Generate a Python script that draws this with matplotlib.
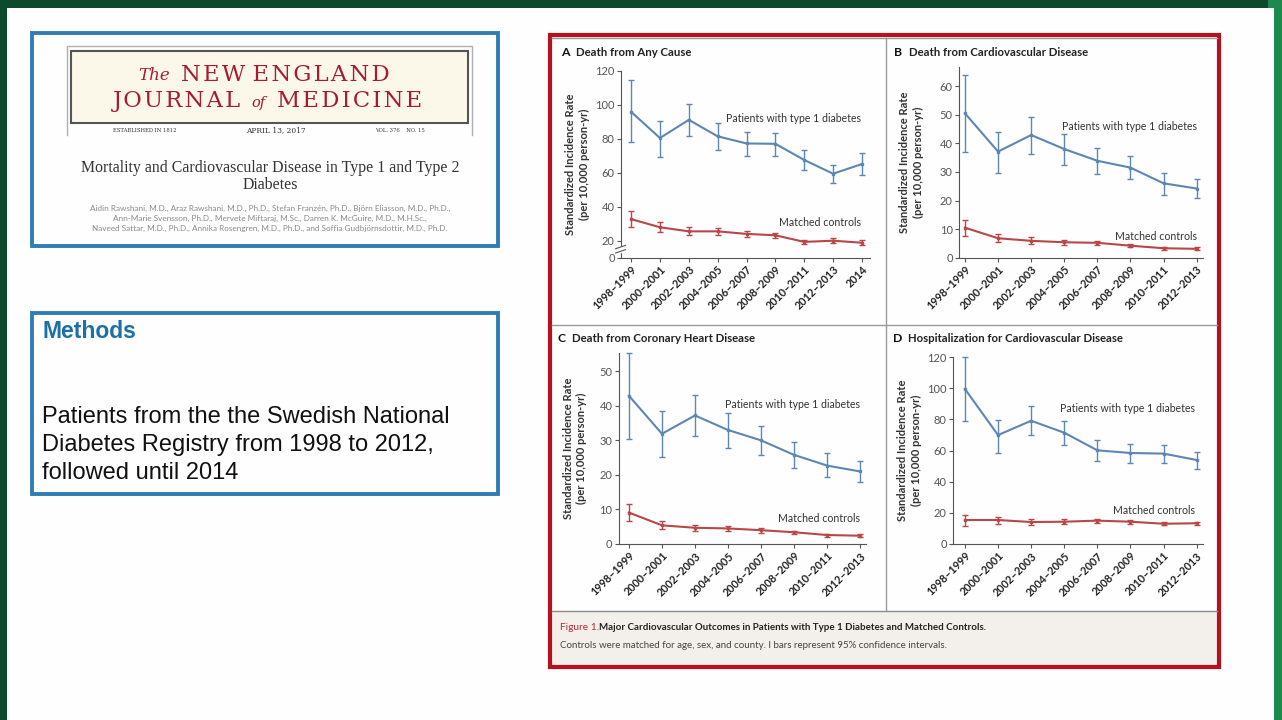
import numpy as np
import matplotlib as mpl
mpl.use('Agg')
import matplotlib.pyplot as plt
from matplotlib.patches import Rectangle
import matplotlib.transforms as mtransforms

W, H = 1282, 720
DPI = 100

# ---- data ----
years_a = ['1998–1999', '2000–2001', '2002–2003', '2004–2005', '2006–2007',
           '2008–2009', '2010–2011', '2012–2013', '2014']
years = years_a[:8]

# A  Death from any cause
a_t1d = [95.8, 80.4, 91.1, 81.4, 77.2, 77.0, 67.5, 59.4, 65.1]
a_t1d_lo = [78.0, 69.1, 81.8, 73.1, 70.1, 70.1, 61.8, 53.9, 58.6]
a_t1d_hi = [114.7, 90.5, 100.4, 89.1, 84.0, 83.2, 73.3, 64.6, 71.7]
a_ctl = [32.7, 27.9, 25.5, 25.5, 24.0, 23.2, 18.6, 20.0, 17.6]
a_ctl_lo = [27.9, 25.3, 23.4, 23.4, 22.2, 21.4, 16.0, 17.6, 15.2]
a_ctl_hi = [37.4, 30.9, 27.9, 27.5, 25.5, 24.6, 20.6, 21.6, 20.2]

# B  Death from cardiovascular disease
b_t1d = [50.5, 37.1, 42.9, 38.0, 33.9, 31.5, 26.0, 24.2]
b_t1d_lo = [37.1, 29.5, 36.4, 32.4, 29.1, 27.4, 22.1, 21.0]
b_t1d_hi = [63.9, 43.8, 49.2, 43.1, 38.3, 35.5, 29.5, 27.5]
b_ctl = [10.5, 6.8, 5.9, 5.4, 5.2, 4.2, 3.3, 3.1]
b_ctl_lo = [7.6, 5.4, 4.9, 4.4, 4.5, 3.6, 2.8, 2.7]
b_ctl_hi = [13.2, 8.2, 7.1, 6.3, 5.9, 4.8, 3.7, 3.6]

# C  Death from coronary heart disease
c_t1d = [42.9, 31.9, 37.2, 33.0, 30.0, 25.8, 22.7, 21.0]
c_t1d_lo = [30.3, 25.1, 31.3, 27.9, 25.8, 21.9, 19.3, 18.0]
c_t1d_hi = [55.2, 38.5, 43.2, 37.9, 34.3, 29.4, 26.2, 24.1]
c_ctl = [9.1, 5.4, 4.7, 4.5, 4.0, 3.4, 2.6, 2.4]
c_ctl_lo = [6.6, 4.2, 3.9, 3.8, 3.3, 2.9, 2.1, 2.0]
c_ctl_hi = [11.6, 6.6, 5.5, 5.2, 4.6, 3.9, 3.0, 2.8]

# D  Hospitalization for cardiovascular disease
d_t1d = [99.5, 69.9, 79.1, 71.4, 60.1, 58.4, 58.0, 53.9]
d_t1d_lo = [79.1, 58.6, 69.7, 63.3, 53.5, 52.0, 52.0, 48.1]
d_t1d_hi = [119.8, 79.8, 88.6, 79.1, 66.7, 64.4, 63.7, 59.3]
d_ctl = [15.4, 15.4, 14.1, 14.3, 15.0, 14.3, 13.0, 13.3]
d_ctl_lo = [11.8, 13.0, 12.4, 12.8, 13.7, 13.0, 12.2, 12.2]
d_ctl_hi = [18.6, 17.3, 15.8, 15.8, 16.3, 15.4, 13.9, 14.1]

BLUE = '#5f86b3'
RED = '#b8474a'
NEJM_RED = '#a51c30'
FONT = 'Lato'
HS = '\u200a'  # hair space, used for the letter-spaced masthead

fig = plt.figure(figsize=(W / DPI, H / DPI), dpi=DPI)
fig.patch.set_facecolor('#0c4a2b')

# full-figure canvas in pixel coordinates
bg = fig.add_axes([0, 0, 1, 1])
bg.set_xlim(0, W)
bg.set_ylim(H, 0)
bg.axis('off')
bg.add_patch(Rectangle((1268, 0), 14, H, color='#1b8a4c', lw=0))
bg.add_patch(Rectangle((7, 8), 1267, H - 8, color='#fdfefd', lw=0))

# ---- left: article header box ----
bg.add_patch(Rectangle((32, 33), 466, 213, fill=False, ec='#2f7db3', lw=2.8))
bg.plot([67, 67, 472, 472], [135, 46, 46, 135], color='#b0b0b0', lw=1)
bg.add_patch(Rectangle((71, 51), 397, 72, fc='#fbf8ea', ec='#555555', lw=1.5))


def spaced(s):
    return HS.join(s)


serif = 'DejaVu Serif'
bg.text(170, 76, 'The', color=NEJM_RED, family=serif, style='italic',
        fontsize=12, ha='right', va='center')
bg.text(181, 75, spaced('NEW') + ' ' + spaced('ENGLAND'), color=NEJM_RED,
        family=serif, fontsize=16.3, ha='left', va='center')
bg.text(113, 101, spaced('JOURNAL'), color=NEJM_RED, family=serif,
        fontsize=16.3, ha='left', va='center')
bg.text(258, 103, 'of', color=NEJM_RED, family=serif, style='italic',
        fontsize=10.5, ha='center', va='center')
bg.text(277, 101, spaced('MEDICINE'), color=NEJM_RED, family=serif,
        fontsize=16.3, ha='left', va='center')
bg.text(113, 130, 'ESTABLISHED IN 1812', color='#333333', family=serif,
        fontsize=3.8, ha='left', va='center')
bg.text(276, 130, 'APRIL 13, 2017', color='#333333', family=serif,
        fontsize=5.4, ha='center', va='center')
bg.text(425, 130, 'VOL. 376    NO. 15', color='#333333', family=serif,
        fontsize=3.8, ha='right', va='center')

bg.text(270, 168, 'Mortality and Cardiovascular Disease in Type 1 and Type 2',
        color='#333333', family='Liberation Serif', fontsize=11.4,
        ha='center', va='center')
bg.text(270, 185, 'Diabetes', color='#333333', family='Liberation Serif',
        fontsize=11.4, ha='center', va='center')
authors = ['Aidin Rawshani, M.D., Araz Rawshani, M.D., Ph.D., Stefan Franzén, Ph.D., Björn Eliasson, M.D., Ph.D.,',
           'Ann-Marie Svensson, Ph.D., Mervete Miftaraj, M.Sc., Darren K. McGuire, M.D., M.H.Sc.,',
           'Naveed Sattar, M.D., Ph.D., Annika Rosengren, M.D., Ph.D., and Soffia Gudbjörnsdottir, M.D., Ph.D.']
for i, line in enumerate(authors):
    bg.text(270, 208 + 10 * i, line, color='#8a8a8a', family=FONT,
            fontsize=5.9, ha='center', va='center')

# ---- left: methods box ----
bg.add_patch(Rectangle((32, 313), 466, 181, fill=False, ec='#2f7db3', lw=2.8))
bg.text(42, 331, 'Methods', color='#1c70a8', family='Liberation Sans',
        fontsize=16.5, weight='bold', ha='left', va='center')
methods = ['Patients from the the Swedish National',
           'Diabetes Registry from 1998 to 2012,',
           'followed until 2014']
for i, line in enumerate(methods):
    bg.text(42, 417 + 28 * i, line, color='#111111', family='Liberation Sans',
            fontsize=17, ha='left', va='center')

# ---- right: figure frame ----
bg.add_patch(Rectangle((551, 611), 666, 54, color='#f3f0eb', lw=0))
bg.add_patch(Rectangle((549.5, 34.5), 669, 632, fill=False, ec='#b8101f', lw=3))
bg.plot([552, 1217], [38, 38], color='#9a9a9a', lw=1)
bg.plot([552, 1217], [325, 325], color='#9a9a9a', lw=1)
bg.plot([552, 1217], [610.5, 610.5], color='#8a8a8a', lw=1)
bg.plot([886, 886], [38, 610], color='#9a9a9a', lw=1)

bg.text(560, 627, 'Figure 1.', color='#b8263a', family=FONT, fontsize=7.3,
        ha='left', va='center')
bg.text(599, 627, 'Major Cardiovascular Outcomes in Patients with Type 1 Diabetes and Matched Controls.',
        color='#222222', family=FONT, fontsize=7.0, weight='bold',
        ha='left', va='center')
bg.text(560, 646, 'Controls were matched for age, sex, and county. I bars represent 95% confidence intervals.',
        color='#444444', family=FONT, fontsize=7.0, ha='left', va='center')


def px_axes(left, top, right, bottom):
    return fig.add_axes([left / W, 1 - bottom / H, (right - left) / W, (bottom - top) / H])


def style_yticks(ax):
    for lab in ax.get_yticklabels():
        lab.set_family(FONT)
        lab.set_fontsize(8)
        lab.set_color('#555555')


def panel(box, letter, title, title_xy, cats, xlim, t1d, t1d_lo, t1d_hi,
          ctl, ctl_lo, ctl_hi, ylim, yticks, t1d_lab, ctl_lab, ylab_x,
          scale=None):
    ax = px_axes(*box)
    ax.patch.set_alpha(0)
    if scale is not None:
        ax.set_yscale('function', functions=scale)
    x = np.arange(len(cats))
    for y, lo, hi, col in [(t1d, t1d_lo, t1d_hi, BLUE), (ctl, ctl_lo, ctl_hi, RED)]:
        y = np.array(y)
        err = [y - np.array(lo), np.array(hi) - y]
        ax.errorbar(x, y, yerr=err, color=col, lw=1.5, elinewidth=1.0,
                    capsize=2.2, capthick=1.0, marker='s', ms=2.0, clip_on=False)
    ax.set_xlim(*xlim)
    ax.set_ylim(*ylim)
    ax.set_yticks(yticks)
    style_yticks(ax)
    ax.set_xticks(x)
    ax.set_xticklabels(cats, rotation=45, ha='right', va='top',
                       rotation_mode='anchor', family=FONT, fontsize=7.8,
                       color='#222222', weight='bold')
    for s in ['top', 'right']:
        ax.spines[s].set_visible(False)
    for s in ['left', 'bottom']:
        ax.spines[s].set_color('#555555')
        ax.spines[s].set_linewidth(0.8)
    ax.tick_params(length=3, width=0.8, color='#555555', pad=1.5)
    bg.text(t1d_lab[0], t1d_lab[1], 'Patients with type 1 diabetes',
            family=FONT, fontsize=7.6, color='#333333', ha='right', va='center')
    bg.text(ctl_lab[0], ctl_lab[1], 'Matched controls',
            family=FONT, fontsize=7.6, color='#333333', ha='right', va='center')
    bg.text(title_xy[0], title_xy[1], letter, family=FONT, fontsize=8.8,
            weight='bold', color='#111111', ha='left', va='center')
    bg.text(title_xy[0] + 15, title_xy[1], title, family=FONT, fontsize=8.2,
            weight='bold', color='#222222', ha='left', va='center')
    ymid = (box[1] + box[3]) / 2
    bg.text(ylab_x, ymid, 'Standardized Incidence Rate', family=FONT,
            fontsize=8.0, weight='bold', color='#333333', rotation=90,
            ha='center', va='center')
    bg.text(ylab_x + 13, ymid, '(per 10,000 person-yr)', family=FONT,
            fontsize=8.0, weight='bold', color='#333333', rotation=90,
            ha='center', va='center')
    return ax


# panel A uses a broken axis: 0-20 compressed to half height
def fwd(y):
    y = np.asarray(y, dtype=float)
    return np.where(y < 20, 10 + y / 2, y)


def inv(t):
    t = np.asarray(t, dtype=float)
    return np.where(t < 20, (t - 10) * 2, t)


axA = panel((621, 70.7, 870, 257.7), 'A', 'Death from Any Cause', (561, 52),
            years_a, (-0.35, 8.28), a_t1d, a_t1d_lo, a_t1d_hi,
            a_ctl, a_ctl_lo, a_ctl_hi, (0, 120), [0, 20, 40, 60, 80, 100, 120],
            (861, 118), (861, 223), 571, scale=(fwd, inv))
# break marks on the y axis
brk = mtransforms.blended_transform_factory(axA.transAxes, axA.transData)
axA.add_patch(Rectangle((-0.02, 7), 0.04, 6, transform=brk, color='white',
                        clip_on=False, zorder=3))
for y0 in (7, 12):
    axA.plot([-0.022, 0.018], [y0 - 1.5, y0 + 2.5], transform=brk,
             color='#555555', lw=0.8, clip_on=False, zorder=4)

panel((959, 66.7, 1203, 257.7), 'B', 'Death from Cardiovascular Disease', (894, 52),
      years, (-0.18, 7.19), b_t1d, b_t1d_lo, b_t1d_hi,
      b_ctl, b_ctl_lo, b_ctl_hi, (0, 66.8), [0, 10, 20, 30, 40, 50, 60],
      (1197, 126), (1197, 236), 905)

panel((618.7, 353.3, 865.7, 544), 'C', 'Death from Coronary Heart Disease', (557, 339),
      years, (-0.31, 7.17), c_t1d, c_t1d_lo, c_t1d_hi,
      c_ctl, c_ctl_lo, c_ctl_hi, (0, 55.2), [0, 10, 20, 30, 40, 50],
      (860, 405), (860, 518), 568)

panel((953, 357, 1203, 544), 'D', 'Hospitalization for Cardiovascular Disease', (893, 339),
      years, (-0.36, 7.19), d_t1d, d_t1d_lo, d_t1d_hi,
      d_ctl, d_ctl_lo, d_ctl_hi, (0, 120), [0, 20, 40, 60, 80, 100, 120],
      (1195, 408), (1195, 511), 903)

fig.savefig('out.png', dpi=DPI, facecolor=fig.get_facecolor())
